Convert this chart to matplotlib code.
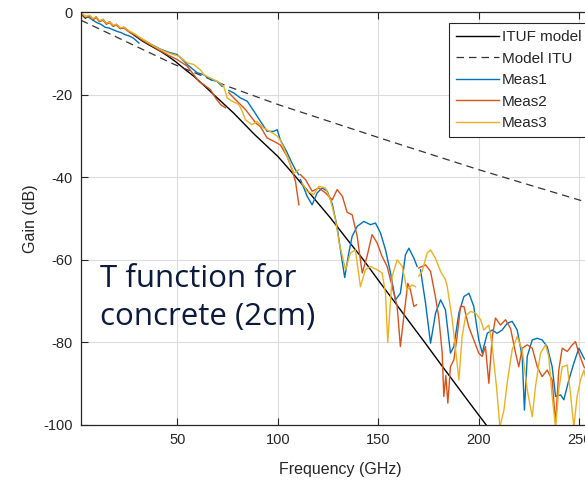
import numpy as np
import matplotlib
matplotlib.use("Agg")
import matplotlib.pyplot as plt

nan = np.nan

# ITUF model (solid black)
ituf_f = [2.3, 4.2, 6.2, 7.9, 9.5, 11.2, 13, 14.6, 16.3, 18, 19.6, 21.5, 23.3, 26, 29,
          32.4, 36, 41.5, 45, 49, 54, 58, 63, 68, 78, 88, 100, 109, 117, 126, 134,
          142.5, 150, 158, 165, 173, 181, 188.5, 196, 203.6, 212]
ituf_db = [-0.6, -1.5, -0.85, -1.9, -1.2, -2.3, -1.8, -2.9, -2.4, -3.4, -3.0, -4.0, -3.7, -4.8, -5.8,
           -7.0, -8.0, -9.5, -10.6, -12.0, -14.0, -15.5, -17.7, -20.0, -24.5, -29.5, -35.0, -40.0, -44.6, -49.8, -54.8,
           -60.0, -65.0, -70.2, -74.8, -80.0, -85.3, -90.2, -95.1, -100.0, -105.5]

# ITU model (dashed)
itu_f = [2, 25, 48, 75, 100, 150, 200, 262]
itu_db = [-2.0, -7.3, -12.6, -18.0, -22.4, -30.4, -38.2, -47.3]

# Meas1 (nan = break between frequency bands)
meas1_f = [2.3, 4, 6, 8, 10, 12, 14, 16, 18, 20, 22, 24, 26, 28, 30.8, nan,
           32.5, 36, 41.5, 46, 49.8, 52, 54.8, 57, 59.8, 63.1, 66.4, 69.7, 72.2, nan,
           75.5, 78, 81.3, 84.7, 88, 91.3, 94.6, 97.9, 99.6, 101.2, 104.6, 107, 108.7, 110.4, nan,
           111.2, 114.5, 117, 119.5, 122, 124.5, 127, 129.4, 131.5, 133.2, 135.2, 136.9, 139.4, 142.7,
           146, 148.5, 151, 153.5, 156, 158.4, 160.9, 163.4, 165.1, 167.6, 169.2, nan,
           170.9, 173.4, 175.9, 178.4, 180.9, 183.3, 185.8, 187.5, 190, 192.5, 195, 197.4, 199.9,
           201.6, 204.1, 206.6, 209, 211.5, 214, 216.5, 219, 221.5, 222.6, 224, 226.5, 229, 231.4,
           233.9, 236.4, 238.1, 240.6, 242.2, 244.7, 247.2, 249.7, 252.2, 256, 260]
meas1_db = [-0.5, -1.0, -1.3, -2.0, -2.6, -3.0, -3.7, -3.9, -4.3, -4.7, -5.0, -5.5, -5.8, -6.3, -7.5, nan,
            -6.6, -7.6, -9.0, -9.8, -10.3, -11.3, -12.7, -13.6, -14.7, -15.2, -16.4, -16.8, -18.0, nan,
            -19.0, -19.6, -20.8, -21.6, -24.0, -26.5, -28.9, -28.9, -28.5, -31.0, -34.1, -36.6, -38.2, -39.4, nan,
            -40.6, -44.6, -46.7, -43.8, -42.6, -43.4, -46.5, -52.0, -59.0, -64.3, -58.4, -54.3, -51.9, -50.7,
            -51.5, -51.1, -53.5, -57.6, -63.2, -69.7, -68.1, -58.8, -57.2, -59.6, -61.6, nan,
            -62.4, -70.5, -80.2, -72.9, -69.7, -72.1, -82.6, -81.0, -72.9, -68.9, -68.1, -71.3, -79.4,
            -82.6, -77.8, -77.0, -77.8, -77.0, -75.4, -74.9, -77.0, -83.4, -96.4, -83.4, -79.4, -79.0, -79.4,
            -81.0, -85.9, -93.1, -92.7, -93.9, -89.1, -85.0, -81.4, -83.8, -86.0, -88.0]

# Meas2
meas2_f = [2.3, 4.2, 6.2, 7.9, 9.5, 11.2, 13, 14.6, 16.3, 18, 19.6, 21.5, 23.3, 26, 29,
           32.4, 36, 41.5, 46, 49.8, 54.8, 58.1, 60.6, 63.1, 66.4, 68.9, 71.4, 73.9, nan,
           75.5, 77.2, 81.3, 83.8, 86.3, 88.8, 91.3, 94.6, 97.9, 101.2, 104.6, 107, 108.7, 110.4, nan,
           111.2, 113.7, 117, 120.3, 123.6, 127, 129.4, 132, 134.4, 136.9, 139.4, 141.9, 144.3,
           146.8, 149.3, 151.8, 154.3, 156.8, 159.3, 160.9, 162.6, 164.6, 165.9, 167.6, 168.9, nan,
           170, 173.4, 175.9, 178.3, 180, 181.7, 182.5, 183.5, 184.5, 185.8, 187.5, 189.1, 190.8,
           192.5, 194.9, 197.4, 199.9, 201.6, 203.2, 204.9, 206.6, 208.2, 210.7, 213.2, 215.7,
           218.2, 219.8, 221.5, 224, 226.5, 229, 231.4, 233.9, 236.4, 238.1, 239.7, 241.4, 243.9,
           246.4, 248, 249.7, 252.2, 256, 260]
meas2_db = [-0.4, -1.3, -0.9, -1.8, -1.4, -2.3, -2.0, -2.9, -2.6, -3.4, -3.2, -4.0, -3.9, -4.8, -5.6,
            -6.8, -7.8, -9.4, -10.6, -11.5, -13.1, -15.2, -16.8, -17.6, -18.8, -20.8, -22.4, -23.2, nan,
            -19.5, -20.4, -22.4, -23.6, -25.2, -26.8, -27.8, -30.5, -31.3, -32.2, -35.0, -38.2, -41.0, -46.7, nan,
            -39.4, -40.6, -43.4, -42.6, -43.8, -45.5, -43.0, -44.6, -48.5, -49.1, -54.3, -63.2, -59.2,
            -53.9, -55.9, -59.2, -61.6, -66.5, -71.3, -81.0, -73.7, -65.7, -67.3, -71.3, -70.9, nan,
            -62.0, -61.2, -62.8, -68.9, -74.0, -82.6, -93.1, -88.0, -94.7, -85.9, -84.2, -78.6, -71.3,
            -71.3, -76.2, -79.4, -82.6, -83.4, -81.0, -89.9, -78.6, -74.1, -75.8, -74.5, -76.6,
            -82.6, -85.9, -81.4, -80.6, -81.4, -85.9, -88.3, -86.7, -89.1, -99.6, -86.7, -81.4, -82.2,
            -80.6, -79.8, -82.6, -85.9, -88.0, -89.0]

# Meas3
meas3_f = [2.3, 4.2, 6.2, 7.9, 9.5, 11.2, 13, 14.6, 16.3, 18, 19.6, 21.5, 23.3, 26, 29,
           32.4, 36, 41.5, 46, 50.7, 54.8, 58.1, 61.4, 63.1, 66.4, 70.6, 73, 74.7, 77.2, 80.5,
           82.2, 83.8, 87.1, 89.6, 92.9, 96.3, 99.5, 101.2, 104.6, 107.9, 110.4, nan,
           112, 114.5, 117.8, 120.3, 123.6, 126.1, 128.6, 130.5, 133.6, 136, 138.5, 141, 143.5,
           146, 149.3, 151.8, 153.5, 154.6, 156.8, 159.3, 161.8, 164.2, 166.7, 168.4, nan,
           170, 171.7, 174.2, 175.9, 178.3, 180.9, 183.3, 184.2, 186.7, 189.1, 190, 191.6, 193.3,
           195.8, 198.3, 200.8, 202.4, 204.9, 206.6, 208.7, 210.4, 212.4, 214, 216.5, 219, 221.5,
           224, 226.5, 228.1, 230.6, 233.1, 234.7, 236.4, 238.1, 239.7, 241.4, 243.9, 245.5, 247.2,
           248.8, 250.5, 252.2, 256, 260]
meas3_db = [-0.3, -1.1, -0.8, -1.6, -1.2, -2.1, -1.8, -2.7, -2.4, -3.2, -3.0, -3.8, -3.7, -4.6, -5.4,
            -6.5, -7.6, -9.1, -10.0, -10.7, -12.3, -12.7, -14.0, -15.2, -16.0, -17.0, -18.0, -20.8, -21.6, -22.4,
            -24.0, -26.1, -27.3, -26.5, -28.1, -29.0, -30.0, -31.0, -35.0, -39.0, -38.2, nan,
            -41.4, -43.4, -44.2, -42.2, -42.6, -45.5, -50.3, -56.0, -62.4, -58.4, -57.6, -66.5, -62.4,
            -61.6, -62.4, -63.2, -68.1, -80.0, -64.0, -60.0, -61.6, -67.3, -66.1, -66.5, nan,
            -64.0, -62.8, -58.4, -57.6, -59.6, -62.8, -64.8, -66.5, -74.5, -85.0, -89.1, -78.6, -73.7,
            -72.5, -72.9, -74.5, -77.0, -75.8, -81.0, -90.7, -100.5, -96.4, -89.9, -81.8, -78.6, -81.8,
            -91.5, -98.0, -90.7, -82.6, -80.6, -83.4, -93.1, -100.5, -91.5, -85.9, -85.5, -92.3, -100.5,
            -93.1, -89.1, -86.7, -95.0, -101.0]

caption = ["T function for", "concrete (2cm)"]

plt.rcParams["font.family"] = ["Liberation Sans", "DejaVu Sans"]
plt.rcParams["axes.unicode_minus"] = False

W, H = 585, 484
fig = plt.figure(figsize=(W / 100, H / 100), dpi=100)
# axes runs past the right edge of the picture, as in the cropped original
ax = fig.add_axes([81 / W, 1 - 425 / H, 519 / W, 413 / H])

ax.plot(ituf_f, ituf_db, color="black", lw=1.0, label="ITUF model")
ax.plot(itu_f, itu_db, color="#333333", lw=0.9, ls=(0, (6, 4)), label="Model ITU")
ax.plot(meas1_f, meas1_db, color="#0072BD", lw=1.0, label="Meas1")
ax.plot(meas2_f, meas2_db, color="#D95319", lw=1.0, label="Meas2")
ax.plot(meas3_f, meas3_db, color="#EDB120", lw=1.0, label="Meas3")

ax.set_xlim(2, 260.2)
ax.set_ylim(-100, 0)
ax.set_xticks([50, 100, 150, 200, 250])
ax.set_yticks([-100, -80, -60, -40, -20, 0])
ax.grid(True, color="#dcdcdc", lw=0.8)
ax.set_axisbelow(True)
ax.tick_params(direction="in", top=True, right=False, length=5, width=0.8,
               labelsize=10.5, colors="#262626", pad=6)
for side in ["left", "bottom", "top", "right"]:
    ax.spines[side].set_color("#262626")
    ax.spines[side].set_linewidth(0.9)

ax.set_xlabel("Frequency (GHz)", fontsize=11.5, color="#262626")
ax.set_ylabel("Gain (dB)", fontsize=11.5, color="#262626")
ax.xaxis.set_label_coords(0.5, -0.108)
ax.xaxis.label.set_va("center")
ax.yaxis.set_label_coords(-0.098, 0.5)
ax.yaxis.label.set_va("center")

leg = fig.legend(loc="upper left", bbox_to_anchor=(449 / W, 1 - 23 / H),
                 bbox_transform=fig.transFigure, fontsize=11, frameon=True,
                 fancybox=False, framealpha=1, edgecolor="#262626",
                 handlelength=2.8, handletextpad=0.2, labelspacing=0.5,
                 borderpad=0.45, borderaxespad=0)
leg.get_frame().set_linewidth(0.8)
for t in leg.get_texts():
    t.set_color("#262626")

for i, line in enumerate(caption):
    fig.text(100 / W, 1 - (287 + 37.5 * i) / H, line, fontsize=22.5,
             family="Open Sans", color="#0b1a3d", va="baseline", ha="left")

fig.savefig("out.png", dpi=100)
